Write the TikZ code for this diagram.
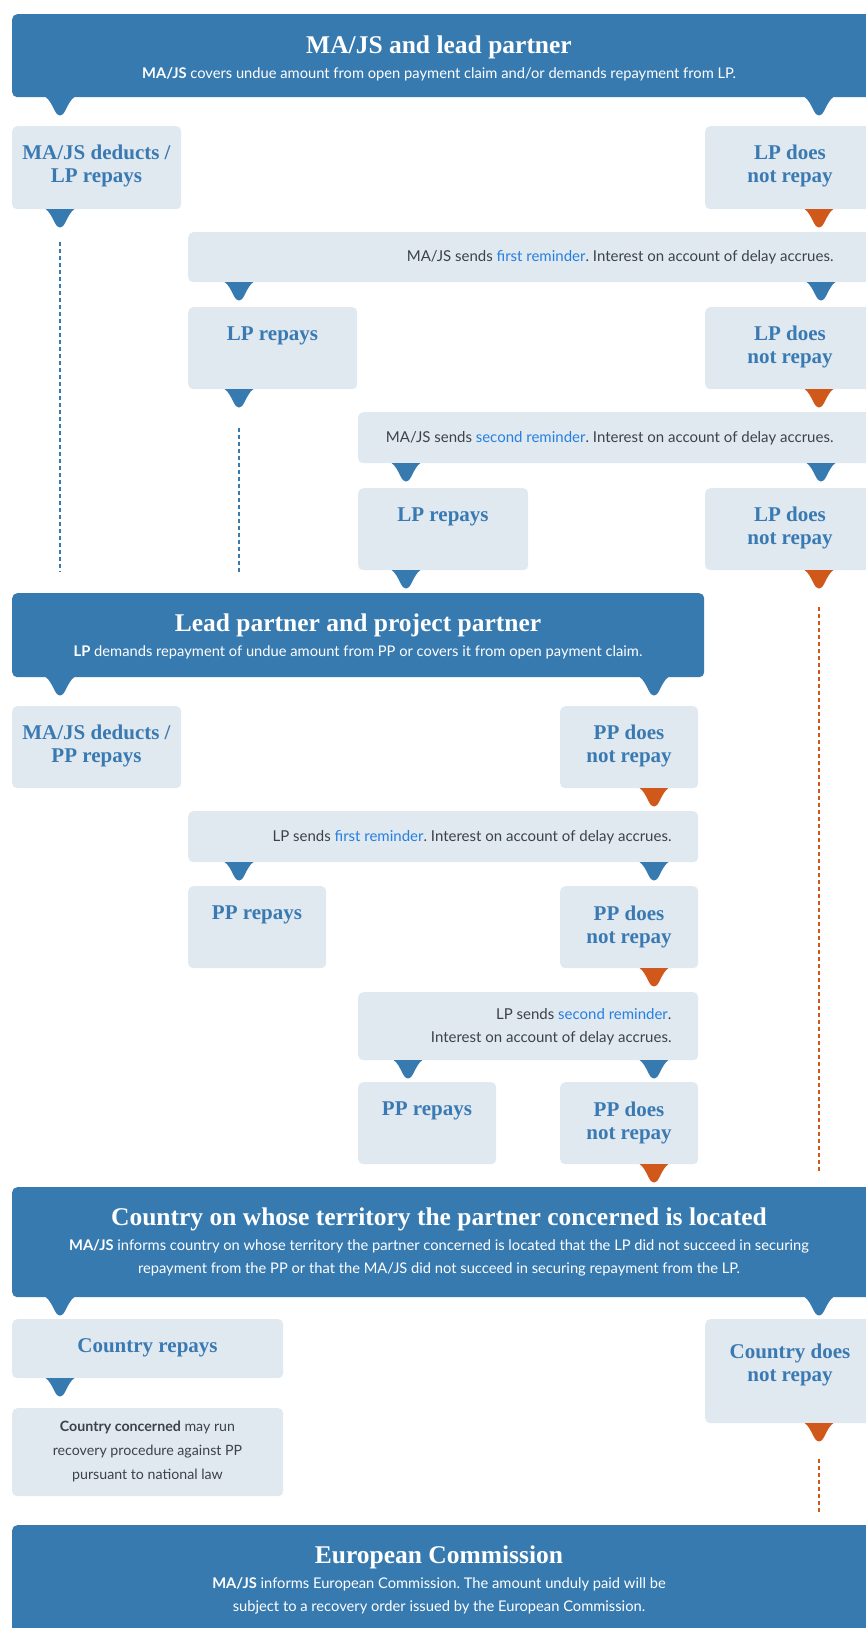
\documentclass[tikz,border=0pt]{standalone}
\usepackage{fontspec}
\setmainfont{Lato}
\newfontfamily\headfont{Liberation Serif}
\usetikzlibrary{calc}
\definecolor{hdrblue}{RGB}{55,122,176}
\definecolor{boxbg}{RGB}{224,232,240}
\definecolor{lblblue}{RGB}{58,122,178}
\definecolor{tiporange}{RGB}{208,88,26}
\definecolor{linkblue}{RGB}{38,128,224}
\definecolor{bodygray}{RGB}{60,66,74}
\def\pointer[#1](#2){\fill[#1,shift={(#2)}] (-14.5,0) .. controls (-11,2) and (-8,8) .. (-5,14) .. controls (-2,20) and (2,20) .. (5,14) .. controls (8,8) and (11,2) .. (14.5,0) -- cycle;}
\tikzset{
	hdrbox/.style={fill=hdrblue, rounded corners=5pt, anchor=north west, inner sep=0pt},
	lbox/.style={fill=boxbg, rounded corners=5pt, anchor=north west, inner sep=0pt},
	hdrtitle/.style={text=white, font=\headfont\bfseries\fontsize{25.5}{30}\selectfont},
	hdrsub/.style={text=white, font=\fontsize{14.7}{23}\selectfont, align=center},
	lbl/.style={text=lblblue, font=\headfont\bfseries\fontsize{21}{23.5}\selectfont, align=center},
	remtxt/.style={text=bodygray, font=\fontsize{15}{23}\selectfont, align=right, anchor=east},
	note/.style={text=bodygray, font=\fontsize{14.2}{24}\selectfont, align=center},
	bluedots/.style={hdrblue, line width=2pt, dash pattern=on 4pt off 3pt},
	orangedots/.style={tiporange, line width=2pt, dash pattern=on 4pt off 3pt}
}

\begin{document}
\frenchspacing
\begin{tikzpicture}[x=1pt,y=-1pt]
			%%%%% START %%%%%
			
			\path[use as bounding box, fill=white] (0,0) rectangle (866,1628);
			
			% MA/JS and lead partner
			\node[hdrbox, minimum width=868pt, minimum height=83pt] (hA) at (12,14) {};
			\node[hdrtitle] (tA) at (439,47) {MA/JS and lead partner};
			\node[hdrsub] (sA) at (439,74) {\textbf{MA/JS} covers undue amount from open payment claim and/or demands repayment from LP.};
			\pointer[hdrblue](60,97);
			\pointer[hdrblue](819,97);
			
			\node[lbox, minimum width=169pt, minimum height=83pt] (bA1) at (12,126) {};
			\node[lbl] (lA1) at (96.5,166) {MA/JS deducts /\\LP repays};
			\node[lbox, minimum width=169pt, minimum height=83pt] (bA2) at (705,126) {};
			\node[lbl] (lA2) at (790,166) {LP does\\not repay};
			\pointer[hdrblue](60,209);
			\pointer[tiporange](819,209);
			
			\node[lbox, minimum width=692pt, minimum height=50pt] (rA) at (188,232) {};
			\node[remtxt] (mA) at (837,257) {MA/JS sends \textcolor{linkblue}{first reminder}. Interest on account of delay accrues.};
			\pointer[hdrblue](239,282);
			\pointer[hdrblue](821,282);
			
			\node[lbox, minimum width=169pt, minimum height=82pt] (bB1) at (188,307) {};
			\node[lbl] (lB1) at (272.5,336) {LP repays};
			\node[lbox, minimum width=169pt, minimum height=82pt] (bB2) at (705,307) {};
			\node[lbl] (lB2) at (790,347) {LP does\\not repay};
			\pointer[hdrblue](239,389);
			\pointer[tiporange](819,389);
			
			\node[lbox, minimum width=522pt, minimum height=51pt] (rB) at (358,412) {};
			\node[remtxt] (mB) at (837,438) {MA/JS sends \textcolor{linkblue}{second reminder}. Interest on account of delay accrues.};
			\pointer[hdrblue](406,463);
			\pointer[hdrblue](821,463);
			
			\node[lbox, minimum width=170pt, minimum height=82pt] (bC1) at (358,488) {};
			\node[lbl] (lC1) at (443,517) {LP repays};
			\node[lbox, minimum width=169pt, minimum height=82pt] (bC2) at (705,488) {};
			\node[lbl] (lC2) at (790,528) {LP does\\not repay};
			\pointer[hdrblue](406,570);
			\pointer[tiporange](819,570);
			
			\coordinate (dA1) at (60,242);
			\coordinate (dA2) at (60,572);
			\coordinate (dB1) at (239,428);
			\coordinate (dB2) at (239,572);
			\draw[bluedots] (dA1) -- (dA2);
			\draw[bluedots] (dB1) -- (dB2);
			
			% Lead partner and project partner
			\node[hdrbox, minimum width=692pt, minimum height=84pt] (hB) at (12,593) {};
			\node[hdrtitle] (tB) at (358,625) {Lead partner and project partner};
			\node[hdrsub] (sB) at (358,652) {\textbf{LP} demands repayment of undue amount from PP or covers it from open payment claim.};
			\pointer[hdrblue](60,677);
			\pointer[hdrblue](654,677);
			
			\node[lbox, minimum width=169pt, minimum height=82pt] (bD1) at (12,706) {};
			\node[lbl] (lD1) at (96.5,746) {MA/JS deducts /\\PP repays};
			\node[lbox, minimum width=138pt, minimum height=82pt] (bD2) at (560,706) {};
			\node[lbl] (lD2) at (629,746) {PP does\\not repay};
			\pointer[tiporange](654,788);
			
			\node[lbox, minimum width=510pt, minimum height=51pt] (rC) at (188,811) {};
			\node[remtxt] (mC) at (675,837) {LP sends \textcolor{linkblue}{first reminder}. Interest on account of delay accrues.};
			\pointer[hdrblue](239,862);
			\pointer[hdrblue](654,862);
			
			\node[lbox, minimum width=138pt, minimum height=82pt] (bE1) at (188,886) {};
			\node[lbl] (lE1) at (257,915) {PP repays};
			\node[lbox, minimum width=138pt, minimum height=82pt] (bE2) at (560,886) {};
			\node[lbl] (lE2) at (629,927) {PP does\\not repay};
			\pointer[tiporange](654,968);
			
			\node[lbox, minimum width=340pt, minimum height=68pt] (rD) at (358,992) {};
			\node[remtxt] (mD) at (675,1027) {LP sends \textcolor{linkblue}{second reminder}.\\Interest on account of delay accrues.};
			\pointer[hdrblue](408,1060);
			\pointer[hdrblue](654,1060);
			
			\node[lbox, minimum width=138pt, minimum height=82pt] (bF1) at (358,1082) {};
			\node[lbl] (lF1) at (427,1111) {PP repays};
			\node[lbox, minimum width=138pt, minimum height=82pt] (bF2) at (560,1082) {};
			\node[lbl] (lF2) at (629,1123) {PP does\\not repay};
			\pointer[tiporange](654,1164);
			
			\coordinate (dC1) at (819,607);
			\coordinate (dC2) at (819,1171);
			\draw[orangedots] (dC1) -- (dC2);
			
			% Country on whose territory ...
			\node[hdrbox, minimum width=868pt, minimum height=110pt] (hC) at (12,1187) {};
			\node[hdrtitle] (tC) at (439,1219) {Country on whose territory the partner concerned is located};
			\node[hdrsub] (sC) at (439,1258) {\textbf{MA/JS} informs country on whose territory the partner concerned is located that the LP did not succeed in securing\\repayment from the PP or that the MA/JS did not succeed in securing repayment from the LP.};
			\pointer[hdrblue](60,1297);
			\pointer[hdrblue](819,1297);
			
			\node[lbox, minimum width=271pt, minimum height=59pt] (bG1) at (12,1319) {};
			\node[lbl] (lG1) at (147.5,1348) {Country repays};
			\node[lbox, minimum width=169pt, minimum height=104pt] (bG2) at (705,1319) {};
			\node[lbl] (lG2) at (790,1365) {Country does\\not repay};
			\pointer[hdrblue](60,1378);
			\pointer[tiporange](819,1423);
			
			\node[lbox, minimum width=271pt, minimum height=88pt] (bH) at (12,1408) {};
			\node[note] (nH) at (147.5,1451) {\textbf{Country concerned} may run\\recovery procedure against PP\\pursuant to national law};
			
			\coordinate (dD1) at (819,1459);
			\coordinate (dD2) at (819,1512);
			\draw[orangedots] (dD1) -- (dD2);
			
			% European Commission
			\node[hdrbox, minimum width=868pt, minimum height=120pt] (hD) at (12,1525) {};
			\node[hdrtitle] (tD) at (439,1557) {European Commission};
			\node[hdrsub] (sD) at (439,1596) {\textbf{MA/JS} informs European Commission. The amount unduly paid will be\\subject to a recovery order issued by the European Commission.};
			
			%%%%% END %%%%%
		\end{tikzpicture}
\end{document}
